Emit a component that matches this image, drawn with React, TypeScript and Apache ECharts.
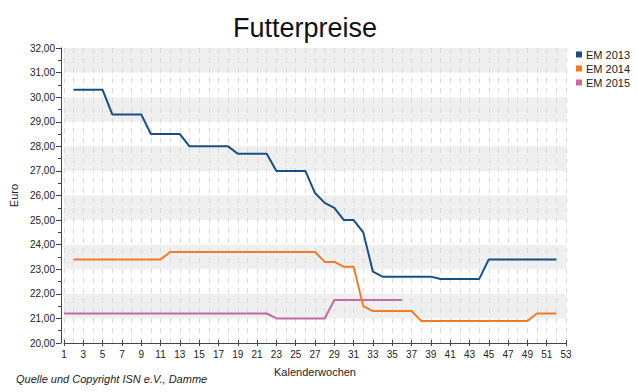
import React, { useEffect, useRef } from "react";
import * as echarts from "echarts";

const chartTitle = "Futterpreise";
const yAxisName = "Euro";
const xAxisName = "Kalenderwochen";
const footerText = "Quelle und Copyright ISN e.V., Damme";
const seriesNames = ["EM 2013", "EM 2014", "EM 2015"];
const seriesColors = ["#174f84", "#f27b2b", "#c46aa4"];

const em2013StartWeek = 2;
const em2013 = [
  30.3, 30.3, 30.3, 30.3,
  29.3, 29.3, 29.3, 29.3,
  28.5, 28.5, 28.5, 28.5,
  28.0, 28.0, 28.0, 28.0, 28.0,
  27.7, 27.7, 27.7, 27.7,
  27.0, 27.0, 27.0, 27.0,
  26.1, 25.7, 25.5, 25.0, 25.0, 24.5, 22.9,
  22.7, 22.7, 22.7, 22.7, 22.7, 22.7,
  22.6, 22.6, 22.6, 22.6, 22.6,
  23.4, 23.4, 23.4, 23.4, 23.4, 23.4, 23.4, 23.4,
];

const em2014StartWeek = 2;
const em2014 = [
  23.4, 23.4, 23.4, 23.4, 23.4, 23.4, 23.4, 23.4, 23.4, 23.4,
  23.7, 23.7, 23.7, 23.7, 23.7, 23.7, 23.7, 23.7,
  23.7, 23.7, 23.7, 23.7, 23.7, 23.7, 23.7, 23.7,
  23.3, 23.3, 23.1, 23.1, 21.5,
  21.3, 21.3, 21.3, 21.3, 21.3,
  20.9, 20.9, 20.9, 20.9, 20.9, 20.9, 20.9, 20.9, 20.9, 20.9, 20.9, 20.9,
  21.2, 21.2, 21.2,
];

const em2015StartWeek = 1;
const em2015 = [
  21.2, 21.2, 21.2, 21.2, 21.2, 21.2, 21.2, 21.2, 21.2, 21.2, 21.2,
  21.2, 21.2, 21.2, 21.2, 21.2, 21.2, 21.2, 21.2, 21.2, 21.2, 21.2,
  21.0, 21.0, 21.0, 21.0, 21.0, 21.0,
  21.75, 21.75, 21.75, 21.75, 21.75, 21.75, 21.75, 21.75,
];

const weekMin = 1;
const weekMax = 53;
const weekInterval = 2;
const euroMin = 20;
const euroMax = 32;
const euroInterval = 1;

const FONT = "'Liberation Sans', Arial, sans-serif";

function toPairs(start: number, values: number[]) {
  return values.map((v, i) => [start + i, v]);
}

export default function App() {
  const ref = useRef<HTMLDivElement>(null);

  useEffect(() => {
    if (!ref.current) return;
    const chart = echarts.init(ref.current, undefined, { renderer: "svg" });
    const starts = [em2013StartWeek, em2014StartWeek, em2015StartWeek];
    const values = [em2013, em2014, em2015];

    chart.setOption({
      animation: false,
      backgroundColor: "#ffffff",
      textStyle: { fontFamily: FONT },
      title: {
        text: chartTitle,
        left: 300,
        top: 9,
        textAlign: "center",
        textStyle: { fontFamily: FONT, fontSize: 27, fontWeight: "normal", color: "#111" },
      },
      legend: {
        data: seriesNames,
        orient: "vertical",
        left: 571,
        top: 44,
        icon: "rect",
        itemWidth: 6,
        itemHeight: 6,
        itemGap: 3,
        textStyle: { fontFamily: FONT, fontSize: 11, color: "#222", padding: [0, 0, 0, -1] },
      },
      grid: { left: 63, right: 72, top: 48, bottom: 49, containLabel: false },
      xAxis: [
        {
          type: "value",
          min: weekMin,
          max: weekMax,
          interval: weekInterval,
          name: xAxisName,
          nameLocation: "middle",
          nameGap: 23,
          nameTextStyle: { fontFamily: FONT, fontSize: 11, color: "#222" },
          axisLine: { show: true, onZero: false, lineStyle: { color: "#444", width: 1 } },
          axisTick: { show: true, length: 3, lineStyle: { color: "#444" } },
          axisLabel: { fontFamily: FONT, fontSize: 10, color: "#222", margin: 6 },
          splitLine: { show: true, lineStyle: { color: "#dadada", type: [5, 5], width: 1 } },
          minorTick: { show: true, splitNumber: 2, length: 0, lineStyle: { color: "rgba(0,0,0,0)" } },
          minorSplitLine: { show: true, lineStyle: { color: "#dadada", type: [5, 5], width: 1 } },
        },
        {
          type: "value",
          position: "bottom",
          min: weekMin,
          max: weekMax,
          interval: weekInterval,
          axisLine: { show: false },
          axisTick: { show: true, inside: true, length: 3, lineStyle: { color: "#444" } },
          axisLabel: { show: false },
          splitLine: { show: false },
        },
      ],
      yAxis: {
        type: "value",
        min: euroMin,
        max: euroMax,
        interval: euroInterval,
        offset: 3,
        name: yAxisName,
        nameLocation: "middle",
        nameGap: 42,
        nameTextStyle: { fontFamily: FONT, fontSize: 11, color: "#222" },
        axisLine: { show: true, lineStyle: { color: "#444", width: 1 } },
        axisTick: { show: true, length: 5, lineStyle: { color: "#444" } },
        minorTick: { show: true, splitNumber: 2, length: 3, lineStyle: { color: "#444" } },
        axisLabel: {
          fontFamily: FONT,
          fontSize: 10,
          color: "#222",
          margin: 6,
          formatter: (v: number) => v.toFixed(2).replace(".", ","),
        },
        splitLine: { show: false },
        splitArea: { show: true, areaStyle: { color: ["rgba(255,255,255,0)", "#efefef"] } },
      },
      series: seriesNames.map((name, i) => ({
        name,
        type: "line",
        xAxisIndex: 0,
        data: toPairs(starts[i], values[i]),
        showSymbol: false,
        symbol: "none",
        color: seriesColors[i],
        lineStyle: { width: 2, color: seriesColors[i] },
        z: i === 1 ? 4 : 3,
      })),
      graphic: [
        {
          type: "text",
          left: 16,
          top: 373,
          style: {
            text: footerText,
            fontFamily: FONT,
            fontSize: 11,
            fontStyle: "italic",
            fill: "#222",
          },
        },
      ],
    });

    return () => chart.dispose();
  }, []);

  return (
    <div
      ref={ref}
      style={{ position: "fixed", left: 0, top: 0, width: 638, height: 392, background: "#fff" }}
    />
  );
}
